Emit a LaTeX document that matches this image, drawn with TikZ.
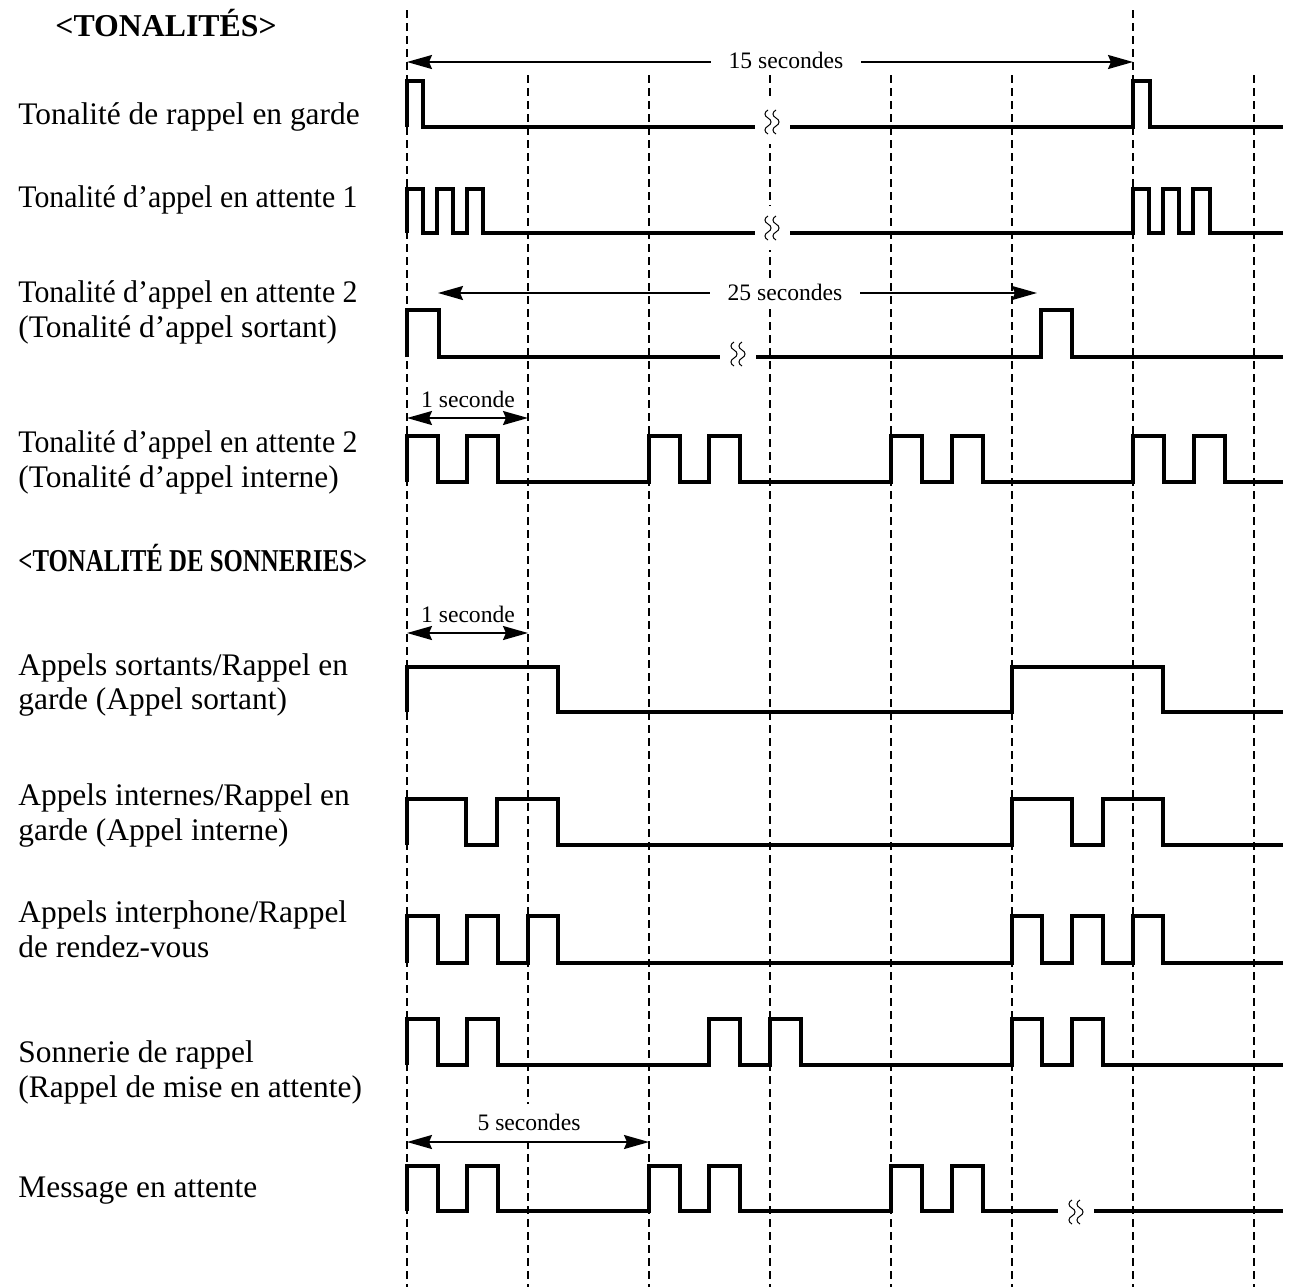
\documentclass[tikz,border=0pt]{standalone}
\usepackage{fontspec}
\setmainfont{Liberation Serif}
\usetikzlibrary{arrows.meta}
% one signal trace: low y, high y, start x, pulses a/b, end x
\newcommand\sig[5]{\draw[sg] (#3,#1) \foreach \a/\b in {#4} { -- (\a,#1) -- (\a,#2) -- (\b,#2) -- (\b,#1) } -- (#5,#1);}
% break mark on a trace
\newcommand\brk[2]{\fill[white] (#1-8,#2-22) rectangle (#1+8,#2+22);
 \foreach \d in {-4,4} \draw[line width=0.5pt] (#1+\d,#2-12) .. controls (#1+\d-4,#2-10) and (#1+\d-4,#2-6) .. (#1+\d,#2-4) .. controls (#1+\d+4,#2-2) and (#1+\d+4,#2+2) .. (#1+\d,#2+4) .. controls (#1+\d-4,#2+6) and (#1+\d-4,#2+10) .. (#1+\d,#2+12);}
\begin{document}
\begin{tikzpicture}[x=0.5pt,y=-0.5pt,
 sg/.style={line width=2.3pt,line join=miter},
 grid/.style={line width=0.55pt,dash pattern=on 4pt off 2.5pt},
 dim/.style={{Stealth[length=12.5pt,width=7pt,inset=1.5pt]}-{Stealth[length=12.5pt,width=7pt,inset=1.5pt]},line width=1pt},
 lbl/.style={anchor=base west,inner sep=0pt,font=\fontsize{15.7}{17.5}\selectfont},
 hd/.style={anchor=base west,inner sep=0pt,font=\fontsize{15.9}{17.5}\selectfont\bfseries},
 dl/.style={anchor=base,inner sep=0pt,font=\fontsize{11.8}{13}\selectfont},
 dlw/.style={dl,fill=white,inner xsep=9pt,inner ysep=2pt}]
\useasboundingbox (0,0) rectangle (1291,1287);
% time grid
\foreach \x in {407,1133} \draw[grid] (\x,10) -- (\x,1287);
\foreach \x in {528,649,770,891,1012,1254} \draw[grid] (\x,75) -- (\x,1287);
% labels
\node[hd] (h1) at (55,36) {<TONALITÉS>};
\node[lbl] (t1) at (18,124) {Tonalité de rappel en garde};
\node[lbl] (t2) at (18,207) {\scalebox{0.95}[1]{Tonalité d’appel en attente 1}};
\node[lbl] (t3a) at (18,302) {\scalebox{0.95}[1]{Tonalité d’appel en attente 2}};
\node[lbl] (t3b) at (18,337) {(Tonalité d’appel sortant)};
\node[lbl] (t4a) at (18,452) {\scalebox{0.95}[1]{Tonalité d’appel en attente 2}};
\node[lbl] (t4b) at (18,487) {(Tonalité d’appel interne)};
\node[hd] (h2) at (18,571) {\scalebox{0.78}[1]{<TONALITÉ DE SONNERIES>}};
\node[lbl] (s1a) at (18,675) {Appels sortants/Rappel en};
\node[lbl] (s1b) at (18,709) {garde (Appel sortant)};
\node[lbl] (s2a) at (18,805) {Appels internes/Rappel en};
\node[lbl] (s2b) at (18,840) {garde (Appel interne)};
\node[lbl] (s3a) at (18,922) {Appels interphone/Rappel};
\node[lbl] (s3b) at (18,957) {de rendez-vous};
\node[lbl] (s4a) at (18,1062) {Sonnerie de rappel};
\node[lbl] (s4b) at (18,1097) {(Rappel de mise en attente)};
\node[lbl] (s5) at (18,1197) {Message en attente};
% dimension arrows
\coordinate (d1l) at (407,62); \coordinate (d1r) at (1133,62);
\coordinate (d2l) at (438,293); \coordinate (d2r) at (1037,293);
\coordinate (d3l) at (407,418); \coordinate (d3r) at (528,418);
\coordinate (d4l) at (407,633); \coordinate (d4r) at (528,633);
\coordinate (d5l) at (407,1142); \coordinate (d5r) at (649,1142);
\node[dl,fill=white,inner ysep=5pt,inner xsep=2pt] (l5) at (529,1130) {5 secondes};
\draw[dim] (d1l) -- (d1r); \draw[dim] (d2l) -- (d2r);
\draw[dim] (d3l) -- (d3r); \draw[dim] (d4l) -- (d4r); \draw[dim] (d5l) -- (d5r);
\node[dlw] (l15) at (786,68) {15 secondes};
\node[dlw] (l25) at (785,300) {25 secondes};
\node[dl] (l1a) at (468,407) {1 seconde};
\node[dl] (l1b) at (468,622) {1 seconde};
% breaks
\brk{772}{122} \brk{772}{228} \brk{738}{354} \brk{1076}{1212}
% tones
\sig{127}{81}{407}{407/423}{755}
\sig{127}{81}{790}{1133/1150}{1283}
\sig{233}{189}{407}{407/423,437/453,467/483}{755}
\sig{233}{189}{790}{1133/1149,1163/1179,1193/1210}{1283}
\sig{357}{310}{407}{407/439}{720}
\sig{357}{310}{756}{1041/1072}{1283}
\sig{482}{436}{407}{407/438,467/498,649/680,709/740,891/922,952/983,1133/1164,1194/1225}{1283}
% ringing
\sig{712}{667}{407}{407/558,1012/1163}{1283}
\sig{845}{799}{407}{407/466,497/558,1012/1072,1103/1163}{1283}
\sig{963}{916}{407}{407/438,467/498,528/558,1012/1042,1072/1103,1133/1163}{1283}
\sig{1065}{1019}{407}{407/438,467/498,709/740,770/801,1012/1042,1072/1103}{1283}
\sig{1211}{1166}{407}{407/438,467/498,649/680,709/740,891/922,952/983}{1058}
\draw[sg] (1094,1211) -- (1283,1211);
\end{tikzpicture}
\end{document}
